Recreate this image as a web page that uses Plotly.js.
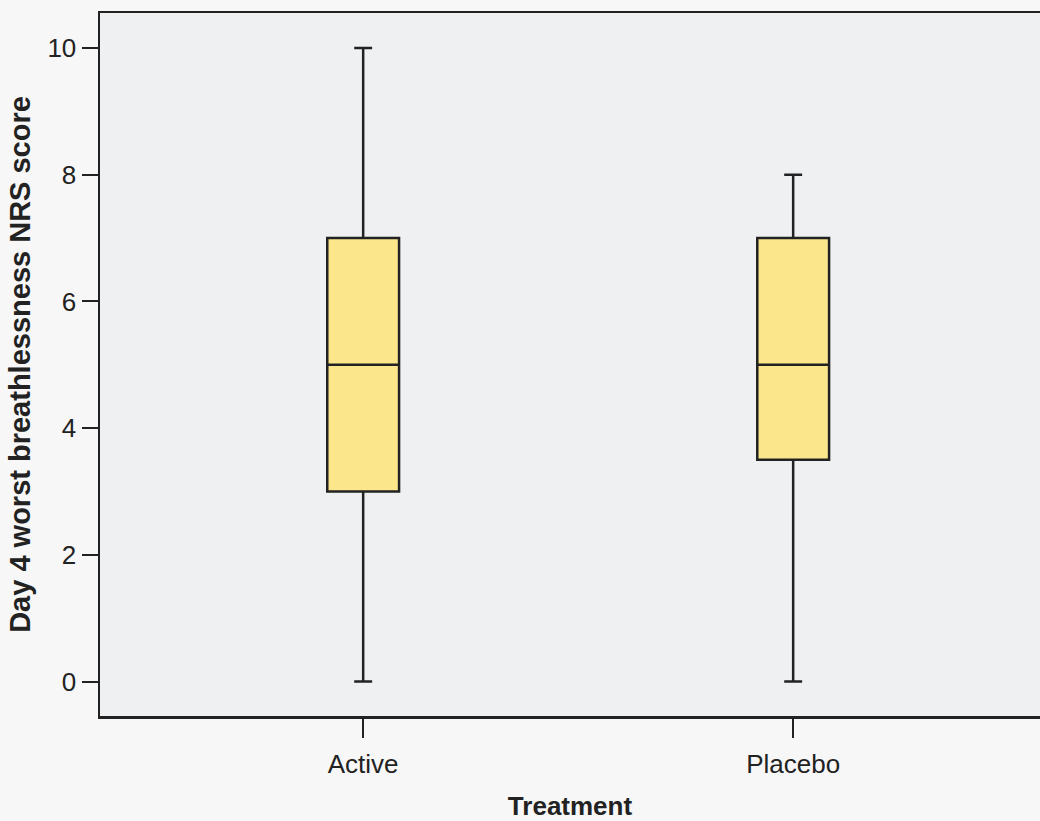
<!DOCTYPE html>
<html>
<head>
<meta charset="utf-8">
<script src="https://cdn.plot.ly/plotly-3.0.1.min.js"></script>
<style>
  html, body { margin: 0; padding: 0; background: #f7f7f7; }
  #chart { width: 1040px; height: 821px; }
</style>
</head>
<body>
<div id="chart"></div>
<script>
// Day 4 worst breathlessness NRS score by treatment group (box summary)
const groups = ['Active', 'Placebo'];
const minScore = [0, 0];
const q1Score = [3, 3.5];
const medianScore = [5, 5];
const q3Score = [7, 7];
const maxScore = [10, 8];
const yTicks = [0, 2, 4, 6, 8, 10];

const ink = '#222222';
const font = 'Liberation Sans, Arial, Helvetica, sans-serif';

const trace = {
  type: 'box',
  x: groups,
  q1: q1Score,
  median: medianScore,
  q3: q3Score,
  lowerfence: minScore,
  upperfence: maxScore,
  width: 0.167,
  whiskerwidth: 0.25,
  fillcolor: '#fbe68c',
  line: { color: ink, width: 2.5 },
  boxpoints: false,
  hoverinfo: 'skip',
  showlegend: false
};

const layout = {
  width: 1040,
  height: 821,
  margin: { l: 100, r: 0, t: 13, b: 105 },
  paper_bgcolor: '#f7f7f7',
  plot_bgcolor: '#eff0f2',
  font: { family: font, color: ink },
  showlegend: false,
  xaxis: {
    type: 'category',
    range: [-0.612, 1.574],
    showgrid: false,
    zeroline: false,
    showline: true,
    mirror: true,
    linecolor: ink,
    linewidth: 2.5,
    ticks: 'outside',
    ticklen: 19,
    tickwidth: 2,
    tickcolor: ink,
    ticklabelstandoff: 4,
    tickfont: { size: 26, color: ink },
    title: { text: '<b>Treatment</b>', font: { size: 26, color: ink }, standoff: 24 }
  },
  yaxis: {
    range: [-0.544, 10.552],
    tickvals: yTicks,
    ticktext: yTicks.map(String),
    showgrid: false,
    zeroline: false,
    showline: true,
    mirror: false,
    linecolor: ink,
    linewidth: 2.5,
    ticks: 'outside',
    ticklen: 16,
    tickwidth: 2,
    tickcolor: ink,
    tickfont: { size: 26, color: ink },
    title: { text: '<b>Day 4 worst breathlessness NRS score</b>', font: { size: 29, color: ink }, standoff: 8 }
  }
};

Plotly.newPlot('chart', [trace], layout, { staticPlot: true, displayModeBar: false });
</script>
</body>
</html>
